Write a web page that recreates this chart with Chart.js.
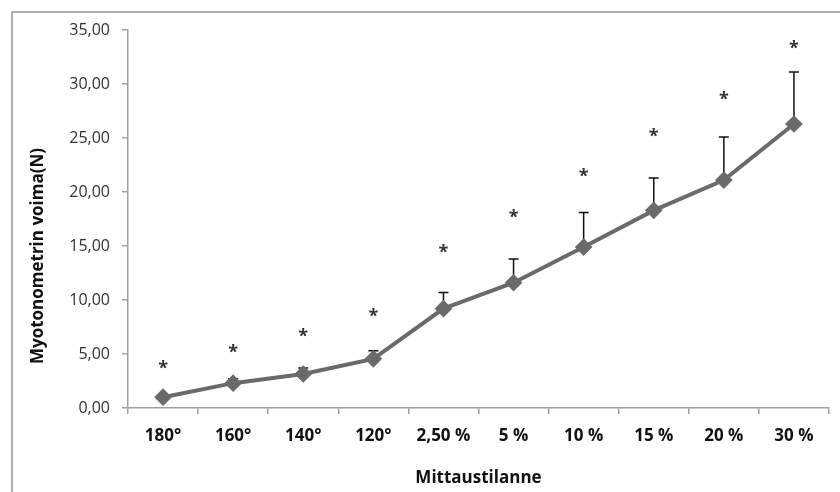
<!DOCTYPE html>
<html lang="fi">
<head>
  <meta charset="UTF-8" />
  <title>Myotonometrin voima</title>
  <script src="https://cdn.jsdelivr.net/npm/chart.js"></script>
  <style>
    body { margin: 0; background: #fff; }
    #wrap { width: 840px; height: 492px; }
  </style>
</head>
<body>
  <div id="wrap"><canvas id="chart" width="840" height="492"></canvas></div>
  <script>
    const labels = ['180°', '160°', '140°', '120°', '2,50 %', '5 %', '10 %', '15 %', '20 %', '30 %'];
    const force = [1.0, 2.3, 3.15, 4.55, 9.2, 11.6, 14.9, 18.3, 21.1, 26.3];
    const errTop = [1.2, 2.7, 3.7, 5.3, 10.7, 13.8, 18.1, 21.3, 25.1, 31.1];
    const starAt = [4.0, 5.5, 7.0, 8.8, 14.7, 18.0, 21.8, 25.5, 28.9, 33.6];
    const yTicks = [0, 5, 10, 15, 20, 25, 30, 35];
    const yTitle = 'Myotonometrin voima(N)';

    const fmt = v => v.toFixed(2).replace('.', ',');
    const font = '"Open Sans", sans-serif';

    // frame, y title, error bars and asterisks
    const extras = {
      id: 'extras',
      beforeDraw(chart) {
        const c = chart.ctx;
        c.save();
        c.strokeStyle = '#b0b0b0';
        c.lineWidth = 2;
        c.beginPath();
        c.moveTo(12, 492); c.lineTo(12, 12); c.lineTo(840, 12);
        c.stroke();
        c.translate(38, 256);
        c.rotate(-Math.PI / 2);
        c.fillStyle = '#111';
        c.font = 'bold 17px ' + font;
        c.textAlign = 'center';
        c.textBaseline = 'middle';
        c.fillText(yTitle, 0, 0);
        c.restore();
      },
      beforeDatasetsDraw(chart) {
        const c = chart.ctx, xs = chart.scales.x, ys = chart.scales.y;
        c.save();
        c.strokeStyle = '#111';
        c.lineWidth = 1.5;
        errTop.forEach((t, i) => {
          const x = xs.getPixelForValue(i);
          const y0 = ys.getPixelForValue(force[i]);
          const y1 = ys.getPixelForValue(t);
          c.beginPath();
          c.moveTo(x, y0); c.lineTo(x, y1);
          c.moveTo(x - 5, y1); c.lineTo(x + 5, y1);
          c.stroke();
        });
        c.fillStyle = '#333';
        c.font = 'bold 18px ' + font;
        c.textAlign = 'center';
        c.textBaseline = 'middle';
        starAt.forEach((s, i) => {
          c.fillText('*', xs.getPixelForValue(i), ys.getPixelForValue(s) + 4);
        });
        c.restore();
      }
    };

    new Chart(document.getElementById('chart'), {
      type: 'line',
      data: {
        labels,
        datasets: [{
          data: force,
          borderColor: '#6a6a6a',
          backgroundColor: '#6a6a6a',
          borderWidth: 4,
          pointStyle: 'rectRot',
          pointRadius: 6,
          pointHoverRadius: 6,
          tension: 0
        }]
      },
      options: {
        responsive: false,
        animation: false,
        layout: { padding: { top: 30, right: 11, left: 0, bottom: 0 } },
        plugins: { legend: { display: false }, tooltip: { enabled: false } },
        scales: {
          x: {
            offset: true,
            grid: { offset: true, drawOnChartArea: false, tickLength: 6, color: '#a0a0a0', lineWidth: 1.5 },
            border: { color: '#a0a0a0', width: 1.5 },
            ticks: { color: '#111', padding: 12, maxRotation: 0, font: { family: font, size: 17, weight: 'bold' } },
            title: { display: true, text: 'Mittaustilanne', color: '#111', padding: { top: 12 }, font: { family: font, size: 17, weight: 'bold' } },
            afterFit: s => { s.height = 84; }
          },
          y: {
            min: 0, max: 35,
            afterBuildTicks: s => { s.ticks = yTicks.map(v => ({ value: v })); },
            grid: { drawOnChartArea: false, tickLength: 6, color: '#a0a0a0', lineWidth: 1.5 },
            border: { color: '#a0a0a0', width: 1.5 },
            ticks: { color: '#333', padding: 12, callback: v => fmt(v), font: { family: font, size: 16 } },
            afterFit: s => { s.width = 128; }
          }
        }
      },
      plugins: [extras]
    });
  </script>
</body>
</html>
